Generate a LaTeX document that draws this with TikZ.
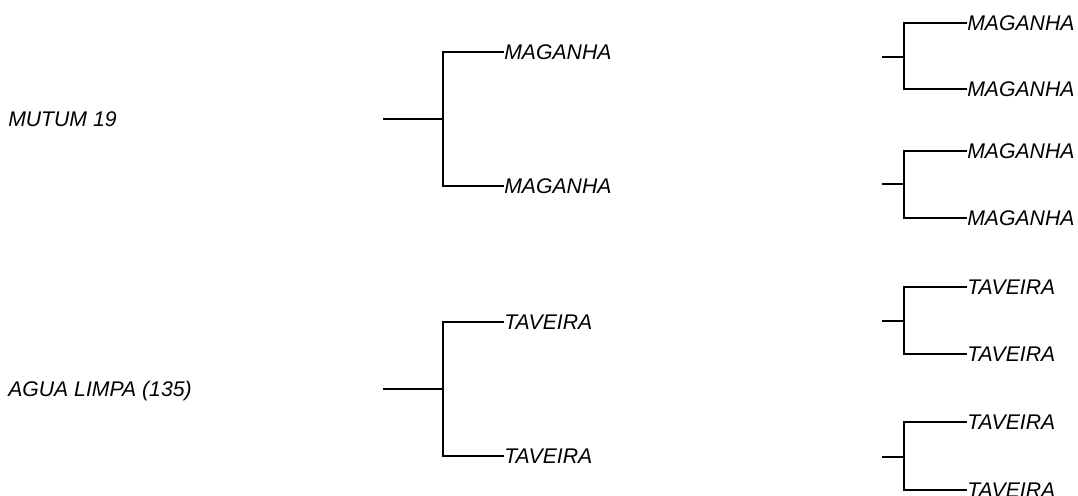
\documentclass[tikz,border=0pt]{standalone}
\usepackage{fontspec}
\setmainfont{Liberation Sans}
\begin{document}
\begin{tikzpicture}[x=0.75pt,y=-0.75pt,
  branch/.style={line width=2.1pt,line join=miter,draw=black},
  leaf/.style={anchor=base west,inner sep=0pt,font=\fontsize{15.9pt}{18pt}\selectfont\itshape},
  site/.style={anchor=base west,inner sep=0pt,font=\fontsize{15.9pt}{18pt}\selectfont\itshape}]
\useasboundingbox (0,0) rectangle (1078,496);
\clip (0,0) rectangle (1078,496);
% left labels
\node[site] (s1) at (8,126) {MUTUM 19};
\node[site] (s2) at (8,396) {AGUA LIMPA (135)};
% middle trees
\coordinate (ma1) at (504,52);  \coordinate (ma2) at (504,186);
\coordinate (ta1) at (504,322); \coordinate (ta2) at (504,456);
\node[leaf] (lma1) at ([yshift=-5.5pt]ma1) {MAGANHA};
\node[leaf] (lma2) at ([yshift=-5.5pt]ma2) {MAGANHA};
\node[leaf] (lta1) at ([yshift=-5.5pt]ta1) {TAVEIRA};
\node[leaf] (lta2) at ([yshift=-5.5pt]ta2) {TAVEIRA};
\coordinate (j1) at (443,119); \coordinate (r1) at (383,119);
\coordinate (j2) at (443,389); \coordinate (r2) at (383,389);
\draw[branch] (r1) -- (j1);
\draw[branch] (ma1) -| (j1) |- (ma2);
\draw[branch] (r2) -- (j2);
\draw[branch] (ta1) -| (j2) |- (ta2);
% right trees
\coordinate (b1) at (967,23);  \coordinate (b2) at (967,89);
\coordinate (b3) at (967,151); \coordinate (b4) at (967,218);
\coordinate (b5) at (967,287); \coordinate (b6) at (967,354);
\coordinate (b7) at (967,422); \coordinate (b8) at (967,490);
\node[leaf] (lb1) at ([yshift=-5.5pt]b1) {MAGANHA};
\node[leaf] (lb2) at ([yshift=-5.5pt]b2) {MAGANHA};
\node[leaf] (lb3) at ([yshift=-5.5pt]b3) {MAGANHA};
\node[leaf] (lb4) at ([yshift=-5.5pt]b4) {MAGANHA};
\node[leaf] (lb5) at ([yshift=-5.5pt]b5) {TAVEIRA};
\node[leaf] (lb6) at ([yshift=-5.5pt]b6) {TAVEIRA};
\node[leaf] (lb7) at ([yshift=-5.5pt]b7) {TAVEIRA};
\node[leaf] (lb8) at ([yshift=-5.5pt]b8) {TAVEIRA};
\coordinate (k1) at (904,57);  \coordinate (q1) at (882,57);
\coordinate (k2) at (904,184); \coordinate (q2) at (882,184);
\coordinate (k3) at (904,321); \coordinate (q3) at (882,321);
\coordinate (k4) at (904,457); \coordinate (q4) at (882,457);
\draw[branch] (q1) -- (k1); \draw[branch] (b1) -| (k1) |- (b2);
\draw[branch] (q2) -- (k2); \draw[branch] (b3) -| (k2) |- (b4);
\draw[branch] (q3) -- (k3); \draw[branch] (b5) -| (k3) |- (b6);
\draw[branch] (q4) -- (k4); \draw[branch] (b7) -| (k4) |- (b8);
\end{tikzpicture}
\end{document}
